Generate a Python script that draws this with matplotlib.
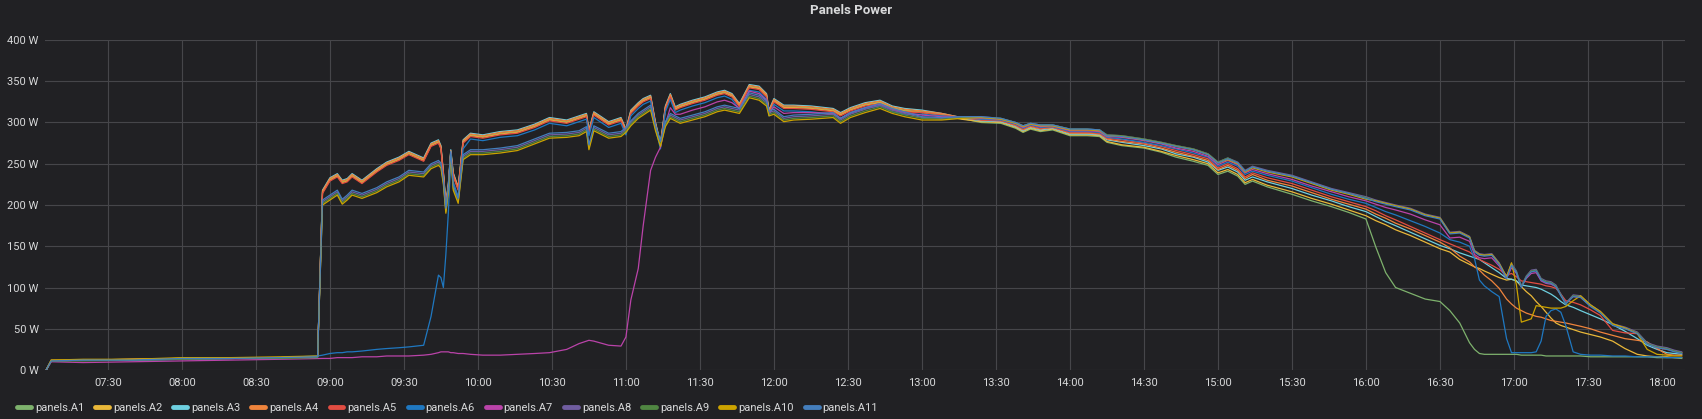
import pandas as pd
import matplotlib
matplotlib.use("Agg")
import matplotlib.pyplot as plt
import matplotlib.dates as mdates

plt.rcParams['font.family'] = ['Roboto', 'DejaVu Sans']

# sample times (HH:MM), shared by every panel series
times = [
    "07:05", "07:07", "07:20", "07:40", "08:00", "08:20", "08:40", "08:55",
    "08:57", "09:00", "09:03", "09:05", "09:07", "09:09", "09:13", "09:19", "09:23", "09:28", "09:32", "09:38",
    "09:41", "09:44", "09:45", "09:46", "09:47", "09:48", "09:49", "09:50", "09:52", "09:54", "09:57",
    "10:02", "10:09", "10:16", "10:23", "10:29", "10:36", "10:41", "10:44", "10:45", "10:47", "10:53", "10:58",
    "11:00", "11:02", "11:05", "11:07", "11:10", "11:12", "11:14", "11:16", "11:18", "11:20", "11:22", "11:27",
    "11:32", "11:37", "11:40", "11:43", "11:46", "11:50", "11:54", "11:57", "11:58", "12:00",
    "12:04", "12:08", "12:15", "12:24", "12:27", "12:31", "12:37", "12:43", "12:48", "12:53",
    "13:00", "13:08", "13:16", "13:24", "13:32", "13:38", "13:41", "13:44", "13:48", "13:53",
    "14:00", "14:07", "14:12", "14:15", "14:21", "14:30", "14:37", "14:43", "14:50", "14:56",
    "15:00", "15:04", "15:08", "15:11", "15:14", "15:20", "15:30", "15:38", "15:46", "15:53", "16:00",
    "16:04", "16:08", "16:12", "16:18", "16:24", "16:30", "16:34", "16:38", "16:42", "16:44",
    "16:46", "16:48", "16:51", "16:54", "16:57", "16:59", "17:01", "17:03", "17:05", "17:07",
    "17:09", "17:11", "17:13", "17:15", "17:17", "17:19", "17:21", "17:24", "17:27", "17:31",
    "17:35", "17:40", "17:45", "17:50", "17:54", "17:58", "18:02", "18:05", "18:08",
]

a1 = [0, 11, 12, 13, 14, 14, 15, 16,
      216, 231, 236, 228, 230, 236, 228, 242, 250, 256, 263, 255, 273, 277, 270, 238, 200, 223, 265, 237, 220, 277, 285,
      283, 287, 289, 296, 304, 301, 306, 309, 289, 311, 299, 304, 290, 313, 322, 327, 331, 298, 273, 318, 333, 317, 320, 325,
      329, 335, 337, 333, 321, 344, 342, 333, 313, 327, 319, 319, 318, 315, 310, 316, 322, 325, 318, 315,
      313, 310, 305, 300,
      299, 293, 288, 292, 289, 291, 284, 284, 283, 276, 272, 269, 264, 258, 253, 248, 237, 241, 235, 225, 229, 222, 213, 205, 198, 191, 183,
      149, 118, 100, 93, 86, 83, 72, 57, 33, 25, 20, 19, 19, 19, 19, 19, 19, 18, 18, 18, 18, 18, 17, 17, 17, 17, 17, 17, 17, 16,
      16, 16, 16, 16, 16, 15, 15, 15, 14]

a2 = [0, 12, 12, 13, 14, 15, 15, 16,
      215, 230, 235, 227, 229, 235, 227, 241, 249, 255, 262, 254, 272, 276, 269, 237, 199, 222, 264, 236, 219, 276, 284,
      282, 286, 288, 295, 303, 300, 305, 308, 288, 310, 298, 303, 289, 312, 321, 326, 330, 297, 272, 317, 332, 316, 319, 324,
      328, 334, 336, 332, 320, 343, 341, 332, 312, 326, 318, 318, 317, 314, 309, 315, 321, 324, 317, 314,
      312, 309, 304, 301,
      300, 294, 289, 293, 290, 292, 285, 285, 284, 277, 273, 270, 265, 260, 255, 250, 239, 243, 237, 227, 231, 224, 216, 208, 201, 194, 187,
      181, 176, 170, 163, 155, 147, 143, 134, 128, 125, 123, 120, 116, 112, 109, 110, 108, 101, 95, 90, 83, 77, 70, 63, 57, 54,
      52, 49, 46, 43, 40, 35, 26, 19, 17, 16, 16, 15, 15]

a3 = [0, 11, 12, 12, 13, 14, 15, 16,
      218, 233, 238, 230, 232, 238, 230, 244, 252, 258, 265, 257, 275, 279, 272, 240, 202, 225, 267, 239, 222, 279, 287,
      285, 289, 291, 298, 306, 303, 308, 311, 291, 313, 301, 306, 292, 315, 324, 329, 333, 300, 275, 320, 335, 319, 322, 327,
      331, 337, 339, 335, 323, 346, 344, 335, 315, 329, 321, 321, 320, 317, 312, 318, 324, 327, 320, 317,
      315, 311, 306, 302,
      301, 295, 290, 294, 291, 293, 286, 286, 285, 279, 276, 272, 268, 262, 258, 252, 242, 246, 240, 230, 234, 228, 220, 212, 205, 198, 192,
      186, 180, 175, 167, 159, 151, 147, 142, 138, 136, 134, 130, 124, 118, 111, 110, 108, 103, 102, 101, 100, 98, 95, 92, 88, 83,
      79, 76, 72, 67, 62, 55, 47, 38, 30, 25, 21, 20, 19]

a4 = [0, 11, 12, 13, 14, 14, 15, 16,
      217, 232, 237, 229, 231, 237, 229, 243, 251, 257, 264, 256, 274, 278, 271, 239, 201, 224, 266, 238, 221, 278, 286,
      284, 288, 290, 297, 305, 302, 307, 310, 290, 312, 300, 305, 291, 314, 323, 328, 332, 299, 274, 319, 334, 318, 321, 326,
      330, 336, 338, 334, 322, 345, 343, 334, 314, 328, 320, 320, 319, 316, 311, 317, 323, 326, 319, 316,
      314, 311, 306, 303,
      302, 296, 291, 295, 292, 294, 287, 287, 286, 280, 277, 274, 269, 264, 259, 254, 243, 248, 242, 232, 237, 230, 223, 215, 207, 201, 195,
      189, 184, 178, 171, 163, 155, 148, 138, 131, 125, 121, 115, 108, 99, 86, 80, 75, 72, 69, 67, 65, 64, 62, 60, 59, 58,
      57, 55, 53, 50, 46, 42, 38, 36, 34, 26, 19, 18, 18]

a5 = [0, 11, 12, 12, 14, 14, 15, 16,
      214, 229, 234, 226, 228, 234, 226, 240, 248, 254, 261, 253, 271, 275, 268, 236, 198, 221, 263, 235, 218, 275, 283,
      281, 285, 287, 294, 302, 299, 304, 307, 287, 309, 297, 302, 288, 311, 320, 325, 329, 296, 271, 316, 331, 315, 318, 323,
      327, 333, 335, 331, 319, 342, 340, 331, 311, 325, 317, 317, 316, 313, 308, 314, 320, 323, 316, 313,
      312, 309, 306, 303,
      302, 297, 292, 296, 293, 294, 288, 288, 287, 281, 279, 275, 271, 266, 261, 256, 245, 250, 244, 234, 239, 233, 226, 218, 210, 204, 198,
      193, 187, 182, 174, 166, 158, 153, 148, 143, 138, 134, 131, 127, 122, 115, 117, 113, 108, 107, 106, 105, 104, 102, 101, 99, 92,
      84, 82, 79, 73, 66, 48, 45, 44, 32, 27, 25, 23, 21]

a6 = [0, 11, 12, 12, 13, 14, 15, 17,
      18, 20, 21, 21, 22, 22, 23, 25, 26, 27, 28, 30, 65, 115, 112, 100, 140, 190, 255, 228, 210, 268, 280,
      278, 282, 284, 291, 299, 296, 301, 304, 284, 306, 294, 299, 285, 308, 317, 322, 326, 293, 268, 313, 328, 312, 315, 320,
      324, 330, 332, 328, 316, 339, 337, 328, 308, 322, 314, 314, 313, 310, 305, 311, 317, 320, 313, 310,
      310, 308, 306, 304,
      303, 298, 293, 297, 294, 295, 289, 289, 288, 282, 280, 276, 272, 268, 263, 258, 247, 252, 247, 237, 241, 236, 229, 221, 213, 207, 202,
      197, 192, 188, 181, 174, 166, 158, 155, 150, 135, 109, 102, 95, 89, 38, 21, 21, 21, 21, 21, 22, 35, 65, 72, 74, 70,
      54, 22, 19, 18, 18, 17, 17, 16, 16, 16, 15, 15, 15]

a7 = [0, 10, 9, 10, 11, 12, 13, 14,
      14, 14, 15, 15, 15, 15, 16, 16, 17, 17, 17, 18, 19, 21, 22, 22, 22, 22, 21, 21, 20, 20, 19,
      18, 18, 19, 20, 21, 25, 32, 35, 36, 35, 30, 29, 40, 85, 123, 175, 242, 258, 270, 298, 318, 310, 310, 315,
      319, 325, 327, 324, 317, 338, 335, 327, 311, 319, 311, 312, 312, 311, 305, 312, 318, 322, 315, 312,
      309, 307, 306, 305,
      304, 299, 294, 298, 295, 296, 290, 290, 289, 283, 282, 278, 274, 269, 265, 259, 249, 254, 249, 239, 243, 238, 231, 223, 216, 210, 205,
      201, 197, 194, 189, 182, 176, 160, 161, 156, 140, 136, 135, 136, 126, 111, 124, 117, 101, 111, 117, 118, 108, 105, 104, 101, 91,
      81, 89, 88, 78, 70, 55, 51, 45, 32, 28, 26, 23, 21]

a8 = [0, 11, 12, 12, 13, 14, 15, 16,
      204, 210, 216, 205, 210, 216, 212, 219, 226, 232, 240, 238, 248, 252, 249, 229, 194, 219, 263, 222, 206, 259, 265,
      265, 267, 270, 278, 285, 286, 288, 293, 271, 294, 285, 287, 292, 300, 309, 313, 319, 294, 275, 299, 309, 306, 303, 307,
      311, 317, 319, 317, 315, 334, 331, 324, 312, 314, 305, 307, 308, 310, 303, 310, 316, 321, 315, 311,
      306, 305, 307, 307,
      305, 300, 296, 299, 297, 297, 292, 292, 291, 285, 284, 280, 276, 272, 268, 262, 252, 257, 252, 242, 247, 242, 236, 228, 220, 215, 210,
      206, 203, 200, 196, 189, 185, 167, 168, 162, 145, 141, 140, 141, 130, 113, 129, 120, 102, 114, 121, 122, 111, 108, 107, 103, 92,
      81, 91, 90, 79, 71, 56, 52, 46, 33, 29, 27, 24, 22]

a9 = [0, 11, 11, 12, 13, 14, 14, 15,
      202, 208, 214, 203, 208, 214, 210, 217, 224, 230, 238, 236, 246, 250, 247, 227, 192, 217, 261, 220, 204, 257, 263,
      263, 265, 268, 276, 283, 284, 286, 291, 269, 292, 283, 285, 290, 298, 307, 311, 317, 292, 273, 297, 307, 304, 301, 305,
      309, 315, 317, 315, 313, 332, 329, 322, 310, 312, 303, 305, 306, 308, 301, 308, 314, 319, 313, 309,
      305, 304, 306, 306,
      305, 300, 296, 299, 297, 297, 292, 292, 291, 285, 284, 280, 276, 272, 268, 262, 252, 257, 251, 241, 246, 241, 235, 227, 219, 214, 209,
      205, 202, 199, 195, 188, 184, 166, 167, 161, 144, 140, 139, 140, 129, 112, 128, 119, 101, 113, 120, 121, 110, 107, 106, 102, 91,
      80, 90, 89, 78, 70, 55, 51, 45, 32, 28, 26, 23, 21]

a10 = [0, 12, 13, 13, 15, 15, 16, 17,
       200, 206, 212, 201, 206, 212, 208, 215, 222, 228, 236, 234, 244, 248, 245, 225, 190, 215, 259, 218, 202, 255, 261,
       261, 263, 266, 274, 281, 282, 284, 289, 267, 290, 281, 283, 288, 296, 305, 309, 315, 290, 271, 295, 305, 302, 299, 303,
       307, 313, 315, 313, 311, 330, 327, 320, 308, 310, 301, 303, 304, 306, 299, 306, 312, 317, 311, 307,
       303, 303, 305, 306,
       304, 299, 295, 298, 296, 296, 291, 291, 290, 284, 283, 279, 275, 271, 267, 261, 251, 255, 250, 240, 245, 240, 234, 226, 218, 213, 207,
       205, 202, 199, 195, 188, 184, 166, 167, 161, 144, 140, 139, 140, 129, 113, 130, 103, 58, 60, 62, 78, 77, 76, 75, 75, 75,
       77, 84, 90, 79, 71, 56, 51, 44, 25, 19, 18, 17, 17]

a11 = [0, 11, 12, 12, 14, 14, 15, 16,
       206, 212, 218, 207, 212, 218, 214, 221, 228, 234, 242, 240, 250, 254, 251, 231, 196, 221, 265, 224, 208, 261, 267,
       267, 269, 272, 280, 287, 288, 290, 295, 273, 296, 287, 289, 294, 302, 311, 315, 321, 296, 277, 301, 311, 308, 305, 309,
       313, 319, 321, 319, 317, 336, 333, 326, 314, 316, 307, 309, 310, 312, 305, 312, 318, 323, 317, 313,
       307, 306, 307, 307,
       305, 300, 296, 299, 297, 297, 292, 292, 291, 284, 283, 279, 275, 271, 267, 261, 251, 256, 251, 241, 246, 241, 235, 227, 219, 214, 208,
       204, 201, 198, 194, 187, 183, 165, 166, 160, 143, 139, 138, 139, 128, 111, 127, 118, 100, 112, 119, 120, 109, 106, 105, 101, 90,
       80, 89, 88, 77, 69, 54, 50, 44, 31, 27, 25, 22, 20]

names = ["panels.A1", "panels.A2", "panels.A3", "panels.A4", "panels.A5", "panels.A6",
         "panels.A7", "panels.A8", "panels.A9", "panels.A10", "panels.A11"]
series = [a1, a2, a3, a4, a5, a6, a7, a8, a9, a10, a11]
colors = ["#7EB26D", "#EAB839", "#6ED0E0", "#EF843C", "#E24D42", "#1F78C1",
          "#BA43A9", "#705DA0", "#508642", "#CCA300", "#447EBC"]

bg = "#212124"
grid = "#46464a"
txt = "#d8d9da"

day = "2019-06-15 "
x = pd.to_datetime([day + t for t in times])

W, H = 1702, 419
fig = plt.figure(figsize=(W / 100, H / 100), dpi=100, facecolor=bg)
ax = fig.add_axes([45 / W, 49 / H, 1640 / W, 330 / H])
ax.set_facecolor(bg)

for vals, name, col in zip(series, names, colors):
    ax.plot(x, vals, color=col, lw=0.9, label=name)

ax.set_xlim(pd.Timestamp(day + "07:04:30"), pd.Timestamp(day + "18:09:20"))
ax.set_ylim(0, 400)
ax.set_yticks(range(0, 401, 50))
ax.set_yticklabels(["%d W" % v for v in range(0, 401, 50)])
ax.xaxis.set_major_locator(mdates.MinuteLocator(byminute=[0, 30]))
ax.xaxis.set_major_formatter(mdates.DateFormatter("%H:%M"))

ax.grid(True, color=grid, lw=0.8)
ax.set_axisbelow(True)
for s in ax.spines.values():
    s.set_visible(False)
ax.tick_params(length=0, colors=txt, labelsize=8)
ax.tick_params(axis="y", pad=4.5)
ax.tick_params(axis="x", pad=6)

fig.text(0.5, 1 - 11 / H, "Panels Power", ha="center", va="center",
         color=txt, fontsize=9.5, fontweight="bold")

leg = fig.legend(loc="center left", bbox_to_anchor=(17 / W, 11 / H), ncol=11,
                 frameon=False, fontsize=8, handlelength=1.25, handletextpad=0.35,
                 columnspacing=1.0, borderpad=0, borderaxespad=0, labelcolor=txt)
for h in leg.legend_handles:
    h.set_linewidth(3.5)
    h.set_solid_capstyle("round")

fig.savefig("out.png", dpi=100, facecolor=bg)
